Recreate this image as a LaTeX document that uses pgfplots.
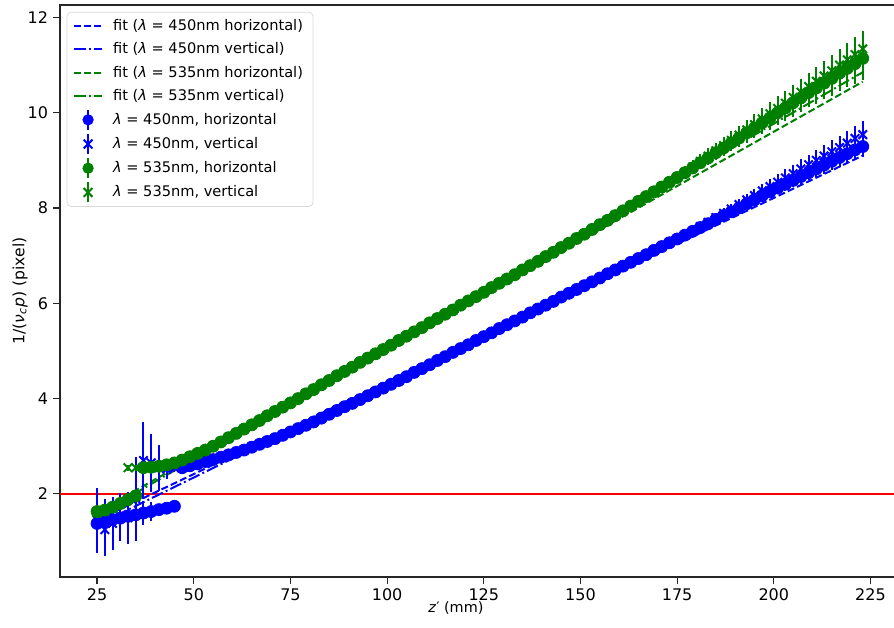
\documentclass[border=0pt]{standalone}
\usepackage{fontspec}
\setmainfont{DejaVu Sans}
\usepackage{pgfplots}
\usepackage{pgfplotstable}
\pgfplotsset{compat=1.18}

\definecolor{mblue}{RGB}{0,0,255}
\definecolor{mgreen}{RGB}{0,128,0}
\definecolor{mred}{RGB}{255,0,0}

% lambda = 450 nm, horizontal
\pgfplotstableread{
x y e
25 1.38 0.58
27 1.42 0.47
29 1.46 0.48
31 1.49 0.42
33 1.53 0.38
35 1.56 0.50
37 1.60 0.25
39 1.63 0.20
41 1.67 0.10
43 1.70 0.06
45 1.74 0.05
47 2.55 0.06
49 2.59 0.04
51 2.63 0.03
53 2.68 0.03
55 2.72 0.03
57 2.77 0.03
59 2.82 0.03
61 2.87 0.03
63 2.92 0.03
65 2.98 0.03
67 3.04 0.03
69 3.10 0.03
71 3.16 0.03
73 3.23 0.03
75 3.30 0.03
77 3.37 0.03
79 3.44 0.03
81 3.51 0.03
83 3.59 0.03
85 3.67 0.03
87 3.75 0.03
89 3.83 0.03
91 3.90 0.03
93 3.98 0.03
95 4.06 0.03
97 4.14 0.03
99 4.22 0.03
101 4.30 0.03
103 4.38 0.03
105 4.46 0.03
107 4.55 0.03
109 4.63 0.03
111 4.71 0.03
113 4.80 0.03
115 4.88 0.03
117 4.97 0.03
119 5.05 0.03
121 5.13 0.03
123 5.22 0.03
125 5.30 0.03
127 5.38 0.03
129 5.47 0.03
131 5.55 0.03
133 5.63 0.03
135 5.71 0.03
137 5.80 0.03
139 5.88 0.03
141 5.96 0.03
143 6.04 0.03
145 6.13 0.03
147 6.21 0.03
149 6.29 0.03
151 6.37 0.03
153 6.45 0.03
155 6.53 0.03
157 6.62 0.03
159 6.70 0.03
161 6.78 0.03
163 6.86 0.03
165 6.94 0.03
167 7.02 0.03
169 7.11 0.03
171 7.19 0.04
173 7.27 0.04
175 7.35 0.05
177 7.43 0.05
179 7.51 0.06
181 7.59 0.06
183 7.67 0.07
185 7.76 0.07
187 7.84 0.08
189 7.92 0.08
191 8.00 0.09
193 8.09 0.10
195 8.17 0.11
197 8.26 0.11
199 8.34 0.12
201 8.42 0.13
203 8.50 0.14
205 8.58 0.14
207 8.66 0.15
209 8.74 0.16
211 8.82 0.17
213 8.90 0.18
215 8.98 0.19
217 9.06 0.19
219 9.14 0.20
221 9.22 0.21
223 9.29 0.22
}\bh

% lambda = 450 nm, vertical
\pgfplotstableread{
x y e
25 1.45 0.68
27 1.25 0.55
29 1.38 0.55
31 1.52 0.50
33 1.50 0.55
35 1.90 0.88
37 2.70 0.80
39 2.65 0.60
41 2.55 0.48
43 2.52 0.20
45 2.55 0.10
47 2.56 0.08
49 2.59 0.06
51 2.63 0.04
53 2.68 0.04
55 2.72 0.04
57 2.77 0.04
59 2.82 0.04
61 2.87 0.04
63 2.92 0.04
65 2.98 0.04
67 3.04 0.04
69 3.10 0.04
71 3.16 0.04
73 3.23 0.04
75 3.30 0.04
77 3.37 0.04
79 3.44 0.04
81 3.51 0.04
83 3.59 0.04
85 3.67 0.04
87 3.75 0.04
89 3.83 0.04
91 3.90 0.04
93 3.98 0.04
95 4.06 0.04
97 4.14 0.04
99 4.22 0.04
101 4.30 0.04
103 4.38 0.04
105 4.46 0.04
107 4.55 0.04
109 4.63 0.04
111 4.71 0.04
113 4.80 0.04
115 4.88 0.04
117 4.97 0.04
119 5.05 0.04
121 5.13 0.04
123 5.22 0.04
125 5.30 0.04
127 5.38 0.04
129 5.47 0.04
131 5.55 0.04
133 5.63 0.04
135 5.71 0.04
137 5.80 0.04
139 5.88 0.04
141 5.96 0.04
143 6.04 0.04
145 6.13 0.04
147 6.21 0.04
149 6.29 0.04
151 6.37 0.04
153 6.45 0.04
155 6.53 0.04
157 6.62 0.04
159 6.70 0.04
161 6.78 0.04
163 6.86 0.04
165 6.94 0.04
167 7.02 0.04
169 7.11 0.05
171 7.19 0.05
173 7.27 0.05
175 7.35 0.06
177 7.43 0.06
179 7.51 0.07
181 7.61 0.08
183 7.70 0.08
185 7.80 0.09
187 7.89 0.10
189 7.98 0.11
191 8.07 0.12
193 8.17 0.13
195 8.26 0.14
197 8.36 0.15
199 8.45 0.16
201 8.54 0.17
203 8.63 0.18
205 8.72 0.19
207 8.82 0.20
209 8.91 0.21
211 9.00 0.22
213 9.09 0.23
215 9.18 0.24
217 9.27 0.25
219 9.36 0.26
221 9.46 0.27
223 9.54 0.28
}\bv

% lambda = 535 nm, horizontal
\pgfplotstableread{
x y e
25 1.63 0.08
27 1.66 0.07
29 1.72 0.06
31 1.80 0.05
33 1.88 0.05
35 1.96 0.05
37 2.55 0.05
39 2.56 0.04
41 2.58 0.04
43 2.61 0.04
45 2.65 0.04
47 2.71 0.04
49 2.78 0.04
51 2.85 0.04
53 2.92 0.04
55 3.00 0.04
57 3.09 0.04
59 3.18 0.04
61 3.27 0.04
63 3.36 0.04
65 3.45 0.04
67 3.54 0.04
69 3.64 0.04
71 3.73 0.04
73 3.82 0.04
75 3.91 0.04
77 4.00 0.04
79 4.10 0.04
81 4.19 0.04
83 4.29 0.04
85 4.38 0.04
87 4.48 0.04
89 4.57 0.04
91 4.66 0.04
93 4.76 0.04
95 4.85 0.04
97 4.94 0.04
99 5.03 0.04
101 5.12 0.04
103 5.22 0.04
105 5.31 0.04
107 5.40 0.04
109 5.49 0.04
111 5.59 0.04
113 5.68 0.04
115 5.77 0.04
117 5.86 0.04
119 5.96 0.04
121 6.05 0.04
123 6.14 0.04
125 6.23 0.04
127 6.33 0.04
129 6.42 0.04
131 6.51 0.04
133 6.60 0.04
135 6.70 0.04
137 6.79 0.04
139 6.88 0.04
141 6.98 0.04
143 7.07 0.04
145 7.17 0.04
147 7.26 0.04
149 7.36 0.04
151 7.45 0.04
153 7.55 0.04
155 7.65 0.04
157 7.74 0.04
159 7.84 0.04
161 7.94 0.04
163 8.04 0.05
165 8.14 0.06
167 8.24 0.07
169 8.34 0.08
171 8.44 0.09
173 8.54 0.10
175 8.64 0.11
177 8.74 0.12
179 8.84 0.13
181 8.95 0.14
183 9.05 0.15
185 9.16 0.16
187 9.26 0.17
189 9.37 0.18
191 9.47 0.19
193 9.58 0.21
195 9.68 0.22
197 9.79 0.23
199 9.89 0.25
201 10.00 0.26
203 10.10 0.27
205 10.21 0.29
207 10.31 0.30
209 10.42 0.31
211 10.52 0.33
213 10.62 0.34
215 10.72 0.36
217 10.83 0.38
219 10.93 0.40
221 11.03 0.42
223 11.14 0.45
}\gh

% lambda = 535 nm, vertical
\pgfplotstableread{
x y e
25 1.60 0.08
27 1.64 0.07
29 1.70 0.06
31 1.78 0.05
33 2.55 0.06
35 2.55 0.06
37 2.56 0.05
39 2.56 0.05
41 2.58 0.05
43 2.61 0.05
45 2.65 0.05
47 2.71 0.05
49 2.78 0.05
51 2.85 0.05
53 2.92 0.05
55 3.00 0.05
57 3.09 0.05
59 3.18 0.05
61 3.27 0.05
63 3.36 0.05
65 3.45 0.05
67 3.54 0.05
69 3.64 0.05
71 3.73 0.05
73 3.82 0.05
75 3.91 0.05
77 4.00 0.05
79 4.10 0.05
81 4.19 0.05
83 4.29 0.05
85 4.38 0.05
87 4.48 0.05
89 4.57 0.05
91 4.66 0.05
93 4.76 0.05
95 4.85 0.05
97 4.94 0.05
99 5.03 0.05
101 5.12 0.05
103 5.22 0.05
105 5.31 0.05
107 5.40 0.05
109 5.49 0.05
111 5.59 0.05
113 5.68 0.05
115 5.77 0.05
117 5.86 0.05
119 5.96 0.05
121 6.05 0.05
123 6.14 0.05
125 6.23 0.05
127 6.33 0.05
129 6.42 0.05
131 6.51 0.05
133 6.60 0.05
135 6.70 0.05
137 6.79 0.05
139 6.88 0.05
141 6.98 0.05
143 7.07 0.05
145 7.17 0.05
147 7.26 0.05
149 7.36 0.05
151 7.45 0.05
153 7.55 0.05
155 7.65 0.05
157 7.74 0.05
159 7.84 0.05
161 7.94 0.06
163 8.04 0.06
165 8.14 0.07
167 8.24 0.08
169 8.34 0.09
171 8.44 0.10
173 8.54 0.11
175 8.64 0.12
177 8.75 0.13
179 8.86 0.14
181 8.98 0.15
183 9.09 0.16
185 9.20 0.17
187 9.31 0.18
189 9.42 0.19
191 9.53 0.20
193 9.64 0.21
195 9.75 0.22
197 9.87 0.23
199 9.98 0.24
201 10.09 0.25
203 10.20 0.26
205 10.32 0.27
207 10.43 0.28
209 10.55 0.29
211 10.66 0.30
213 10.77 0.32
215 10.88 0.33
217 11.00 0.34
219 11.11 0.35
221 11.22 0.37
223 11.34 0.38
}\gv

\begin{document}
\fontsize{7}{8.4}\selectfont
\begin{tikzpicture}
\begin{axis}[
  name=ax, at={(0,0)}, anchor=south west,
  scale only axis, width=418pt, height=286pt,
  xmin=15.41, xmax=231.6, ymin=0.256, ymax=12.26,
  xtick={25,50,...,225}, ytick={2,4,...,12},
  tick pos=left, tick align=outside,
  major tick length=3.5pt,
  axis line style={line width=0.6pt, black!85},
  every tick/.style={line width=0.6pt, black!85},
  /pgf/number format/assume math mode=true,
  ticklabel style={font=\fontsize{8}{9.6}\selectfont},
  xlabel={\textit{z}′ (mm)},
  ylabel={1/(\textit{ν}\textsubscript{\textit{c}}\textit{p}) (pixel)},
  every axis x label/.style={at={(axis description cs:0.4736,0)}, yshift=-15.5pt, anchor=center,
    font=\fontsize{7.2}{8.6}\selectfont},
  every axis y label/.style={at={(axis description cs:0,0.5)}, xshift=-20pt, rotate=90, anchor=center,
    font=\fontsize{7.8}{9.4}\selectfont},
  legend cell align=left,
  legend style={at={(0.008,0.988)}, anchor=north west,
    draw=black!15, rounded corners=2pt, fill=white,
    font=\fontsize{7.3}{8.8}\selectfont, row sep=1.1pt, inner xsep=3pt, inner ysep=1.5pt,
    /tikz/every odd column/.append style={column sep=3pt}},
  legend image code/.code={\draw[#1] (0pt,0pt) -- (14pt,0pt);},
]
\addplot[mred, line width=1pt, forget plot] coordinates {(15.41,2) (231.6,2)};

% fits
\addplot[mblue, line width=1pt, dash pattern=on 3.5pt off 1.6pt] coordinates {(25,1.45) (223,9.10)};
\addlegendentry{fit ({\itshape λ} = 450nm horizontal)}
\addplot[mblue, line width=1pt, dash pattern=on 6pt off 1.6pt on 1pt off 1.6pt] coordinates {(25,1.35) (223,9.22)};
\addlegendentry{fit ({\itshape λ} = 450nm vertical)}
\addplot[mgreen, line width=1pt, dash pattern=on 3.5pt off 1.6pt] coordinates {(25,1.62) (223,10.65)};
\addlegendentry{fit ({\itshape λ} = 535nm horizontal)}
\addplot[mgreen, line width=1pt, dash pattern=on 6pt off 1.6pt on 1pt off 1.6pt] coordinates {(25,1.55) (223,10.85)};
\addlegendentry{fit ({\itshape λ} = 535nm vertical)}

% data with error bars
\addplot[only marks, mark=*, mark size=3pt, mblue,
  mark options={draw=mblue, fill=mblue, opacity=1},
  legend image code/.code={\draw[mblue, line width=1pt] (7pt,-5pt) -- (7pt,5pt);
    \fill[mblue] (7pt,0pt) circle (2.6pt);},
  error bars/.cd, y dir=both, y explicit, error mark=none,
  error bar style={line width=1pt, mblue}]
  table[x=x, y=y, y error=e] {\bh};
\addlegendentry{{\itshape λ} = 450nm, horizontal}
\addplot[only marks, mark=x, mark size=3pt, mblue, mark options={line width=1pt},
  legend image code/.code={\draw[mblue, line width=1pt] (7pt,-5pt) -- (7pt,5pt);
    \draw[mblue, line width=1pt] (4.8pt,-2.2pt) -- (9.2pt,2.2pt) (4.8pt,2.2pt) -- (9.2pt,-2.2pt);},
  error bars/.cd, y dir=both, y explicit, error mark=none,
  error bar style={line width=1pt, mblue}]
  table[x=x, y=y, y error=e] {\bv};
\addlegendentry{{\itshape λ} = 450nm, vertical}
\addplot[only marks, mark=*, mark size=3pt, mgreen,
  mark options={draw=mgreen, fill=mgreen, opacity=1},
  legend image code/.code={\draw[mgreen, line width=1pt] (7pt,-5pt) -- (7pt,5pt);
    \fill[mgreen] (7pt,0pt) circle (2.6pt);},
  error bars/.cd, y dir=both, y explicit, error mark=none,
  error bar style={line width=1pt, mgreen}]
  table[x=x, y=y, y error=e] {\gh};
\addlegendentry{{\itshape λ} = 535nm, horizontal}
\addplot[only marks, mark=x, mark size=3pt, mgreen, mark options={line width=1pt},
  legend image code/.code={\draw[mgreen, line width=1pt] (7pt,-5pt) -- (7pt,5pt);
    \draw[mgreen, line width=1pt] (4.8pt,-2.2pt) -- (9.2pt,2.2pt) (4.8pt,2.2pt) -- (9.2pt,-2.2pt);},
  error bars/.cd, y dir=both, y explicit, error mark=none,
  error bar style={line width=1pt, mgreen}]
  table[x=x, y=y, y error=e] {\gv};
\addlegendentry{{\itshape λ} = 535nm, vertical}
\end{axis}
\pgfresetboundingbox
\path[use as bounding box] (-30pt,-25pt) rectangle (417pt,288.5pt);
\end{tikzpicture}
\end{document}
